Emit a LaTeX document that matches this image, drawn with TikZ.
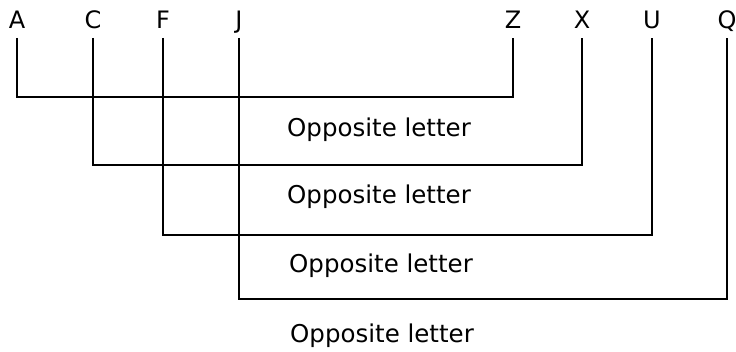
\documentclass[tikz,border=0pt]{standalone}
\usepackage{fontspec}
\setmainfont{DejaVu Sans}
\begin{document}
\begin{tikzpicture}[x=1pt,y=-1pt,
  letter/.style={anchor=base,inner sep=0pt,font=\fontsize{24}{28}\selectfont},
  lbl/.style={anchor=base west,inner sep=0pt,font=\fontsize{24.5}{28}\selectfont},
  conn/.style={draw=black,line width=1.1pt}]
\useasboundingbox (0,0) rectangle (736,352);
\foreach \n/\x in {A/17,C/93,F/163,J/239,Z/513,X/582,U/652,Q/727}
  \node[letter] (\n) at (\x,29) {\n};
\coordinate (h1) at (0,97);
\coordinate (h2) at (0,165);
\coordinate (h3) at (0,235);
\coordinate (h4) at (0,299);
\draw[conn] ([yshift=-9pt]A.base) -- (A.base |- h1) -- (Z.base |- h1) -- ([yshift=-9pt]Z.base);
\draw[conn] ([yshift=-9pt]C.base) -- (C.base |- h2) -- (X.base |- h2) -- ([yshift=-9pt]X.base);
\draw[conn] ([yshift=-9pt]F.base) -- (F.base |- h3) -- (U.base |- h3) -- ([yshift=-9pt]U.base);
\draw[conn] ([yshift=-9pt]J.base) -- (J.base |- h4) -- (Q.base |- h4) -- ([yshift=-9pt]Q.base);
\node[lbl] (l1) at (287,137) {Opposite letter};
\node[lbl] (l2) at (287,204) {Opposite letter};
\node[lbl] (l3) at (289,273) {Opposite letter};
\node[lbl] (l4) at (290,343) {Opposite letter};
\end{tikzpicture}
\end{document}
